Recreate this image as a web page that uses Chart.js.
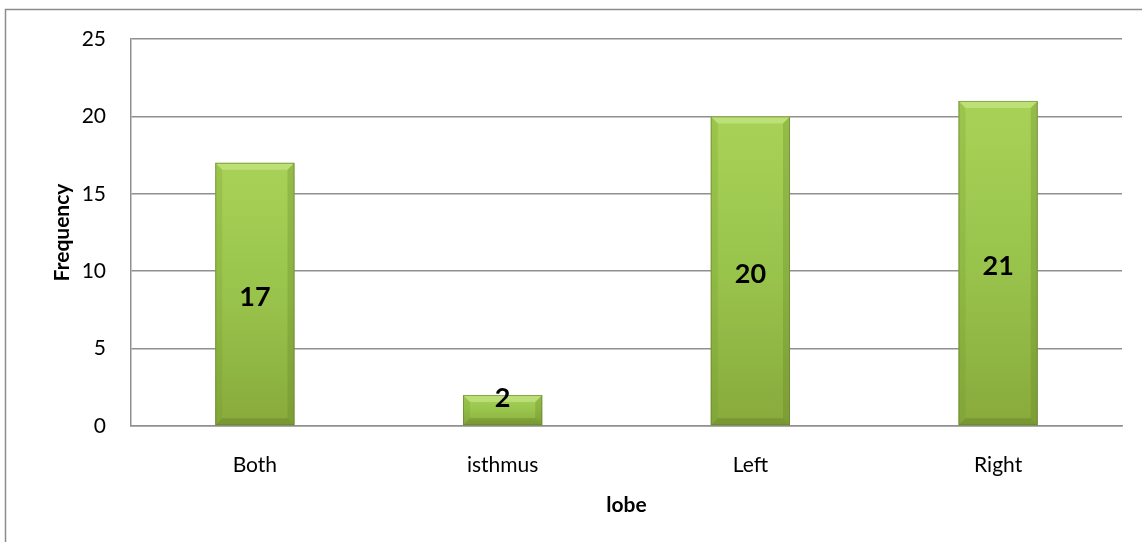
<!DOCTYPE html>
<html>
<head>
<meta charset="utf-8">
<style>
  html, body { margin: 0; padding: 0; background: #fff; }
  #wrap { width: 1142px; height: 542px; position: relative; }
</style>
<script src="https://cdn.jsdelivr.net/npm/chart.js@4.4.0/dist/chart.umd.min.js"></script>
</head>
<body>
<div id="wrap"><canvas id="c" width="1142" height="542"></canvas></div>
<script>
// Frequency of lesions by thyroid lobe
const categories = ['Both', 'isthmus', 'Left', 'Right'];
const frequency = [17, 2, 20, 21];
const yTicks = [0, 5, 10, 15, 20, 25];

const FONT = "Lato, 'Open Sans', 'DejaVu Sans', sans-serif";
const GRID = '#909090';
const BAR_PCT = 0.64, CAT_PCT = 0.5;

// Frame around the whole chart area
const framePlugin = {
  id: 'frame',
  beforeDraw(chart) {
    const ctx = chart.ctx;
    ctx.save();
    ctx.strokeStyle = '#8c8c8c';
    ctx.lineWidth = 1.5;
    ctx.strokeRect(5.5, 9.5, 2000, 2000);
    ctx.restore();
  }
};

// Bevelled edges on the bars and centred value labels
const bevelPlugin = {
  id: 'bevel',
  afterDatasetsDraw(chart) {
    const ctx = chart.ctx;
    const meta = chart.getDatasetMeta(0);
    meta.data.forEach((bar, i) => {
      const w = bar.width;
      const l = bar.x - w / 2, r = bar.x + w / 2;
      const t = bar.y, b = bar.base;
      const s = Math.min(7, (b - t) / 2);
      ctx.save();
      ctx.fillStyle = 'rgba(205,235,145,0.55)';
      ctx.beginPath();
      ctx.moveTo(l, t); ctx.lineTo(r, t); ctx.lineTo(r - s, t + s); ctx.lineTo(l + s, t + s); ctx.closePath();
      ctx.fill();
      ctx.fillStyle = 'rgba(110,150,40,0.22)';
      ctx.beginPath();
      ctx.moveTo(l, t); ctx.lineTo(l + s, t + s); ctx.lineTo(l + s, b - s); ctx.lineTo(l, b); ctx.closePath();
      ctx.fill();
      ctx.fillStyle = 'rgba(90,120,30,0.25)';
      ctx.beginPath();
      ctx.moveTo(r, t); ctx.lineTo(r - s, t + s); ctx.lineTo(r - s, b - s); ctx.lineTo(r, b); ctx.closePath();
      ctx.fill();
      ctx.fillStyle = 'rgba(80,105,25,0.28)';
      ctx.beginPath();
      ctx.moveTo(l, b); ctx.lineTo(r, b); ctx.lineTo(r - s, b - s); ctx.lineTo(l + s, b - s); ctx.closePath();
      ctx.fill();
      ctx.strokeStyle = 'rgba(100,125,50,0.6)';
      ctx.lineWidth = 1;
      ctx.strokeRect(l + 0.5, t + 0.5, w - 1, b - t - 1);

      // value label: centred in the bar, pushed to the top on short bars
      const mid = (t + b) / 2 + 3;
      const y = (b - t) > 40 ? mid : t + 3;
      ctx.fillStyle = '#000';
      ctx.font = 'bold 27px ' + FONT;
      ctx.textAlign = 'center';
      ctx.textBaseline = 'middle';
      ctx.fillText(String(frequency[i]), bar.x, y);
      ctx.restore();
    });
  }
};

function barGradient(ctx) {
  const chart = ctx.chart;
  const ys = chart.scales && chart.scales.y;
  if (!ys || !chart.chartArea || ctx.dataIndex === undefined) return '#9bc84a';
  const top = ys.getPixelForValue(frequency[ctx.dataIndex]);
  const base = ys.getPixelForValue(0);
  if (!isFinite(top) || !isFinite(base) || base - top < 1) return '#9bc84a';
  const g = chart.ctx.createLinearGradient(0, top, 0, base);
  g.addColorStop(0, '#a8d257');
  g.addColorStop(0.5, '#99c44c');
  g.addColorStop(1, '#88aa3c');
  return g;
}

new Chart(document.getElementById('c'), {
  type: 'bar',
  data: {
    labels: categories,
    datasets: [{
      data: frequency,
      backgroundColor: barGradient,
      borderWidth: 0,
      barPercentage: BAR_PCT,
      categoryPercentage: CAT_PCT
    }]
  },
  plugins: [framePlugin, bevelPlugin],
  options: {
    responsive: false,
    animation: false,
    events: [],
    layout: { padding: { left: 0, top: 39, right: 20, bottom: 0 } },
    plugins: { legend: { display: false }, tooltip: { enabled: false } },
    scales: {
      x: {
        grid: { display: false, drawTicks: false },
        border: { display: true, color: GRID, width: 1.5 },
        ticks: { color: '#000', font: { family: FONT, size: 21 }, padding: 27 },
        title: {
          display: true, text: 'lobe', color: '#000',
          font: { family: FONT, size: 21, weight: 'bold' },
          padding: { top: 0, bottom: 24 }
        },
        afterFit(scale) { scale.height = 116; }
      },
      y: {
        min: 0, max: 25,
        afterBuildTicks(scale) { scale.ticks = yTicks.map(v => ({ value: v })); },
        grid: { color: GRID, lineWidth: 1.5, drawTicks: false },
        border: { display: true, color: GRID, width: 1.5 },
        ticks: { color: '#000', font: { family: FONT, size: 21 }, padding: 25 },
        title: {
          display: true, text: 'Frequency', color: '#000',
          font: { family: FONT, size: 21, weight: 'bold' },
          padding: { top: 50, bottom: 0 }
        },
        afterFit(scale) { scale.width = 131; }
      }
    }
  }
});
</script>
</body>
</html>
